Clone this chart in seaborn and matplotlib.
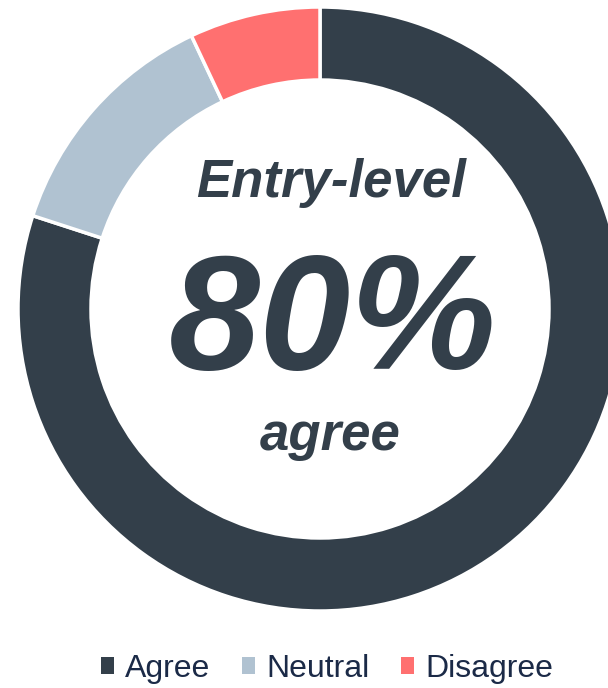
import matplotlib
matplotlib.use("Agg")
import matplotlib.pyplot as plt
import seaborn as sns

# survey split
labels = ['Agree', 'Neutral', 'Disagree']
shares = [80, 13, 7]
colors = ['#333f4a', '#b0c2d1', '#ff7070']

center_top = 'Entry-level'
center_big = '80%'
center_bottom = 'agree'

sns.set_theme(style="white")
plt.rcParams['font.family'] = ['Liberation Sans', 'DejaVu Sans']

W, H = 608, 688
fig = plt.figure(figsize=(W / 100, H / 100), dpi=100)
ax = fig.add_axes([0, 0, 1, 1])

wedges, _ = ax.pie(shares, colors=colors, startangle=90, counterclock=False,
                   center=(320, H - 309), radius=302,
                   wedgeprops=dict(width=73, edgecolor='white', linewidth=2.5))
ax.set_xlim(0, W)
ax.set_ylim(0, H)
ax.set_aspect('auto')
ax.axis('off')

txt = dict(color='#333f4a', fontweight='bold', fontstyle='italic', ha='center', va='baseline')
ax.text(331, H - 197, center_top, fontsize=38, **txt)
ax.text(333, H - 369, center_big, fontsize=118, **txt)
ax.text(330, H - 450, center_bottom, fontsize=38, **txt)

leg = ax.legend(wedges, labels, loc='center', bbox_to_anchor=(327 / W, 1 - 669 / H),
                bbox_transform=fig.transFigure, ncol=3, frameon=False, fontsize=23,
                handlelength=0.4, handleheight=0.45, handletextpad=0.35,
                columnspacing=1.0, labelcolor='#1b2a47')
for h in leg.legend_handles:
    h.set_edgecolor('none')

fig.savefig('out.png', dpi=100)
